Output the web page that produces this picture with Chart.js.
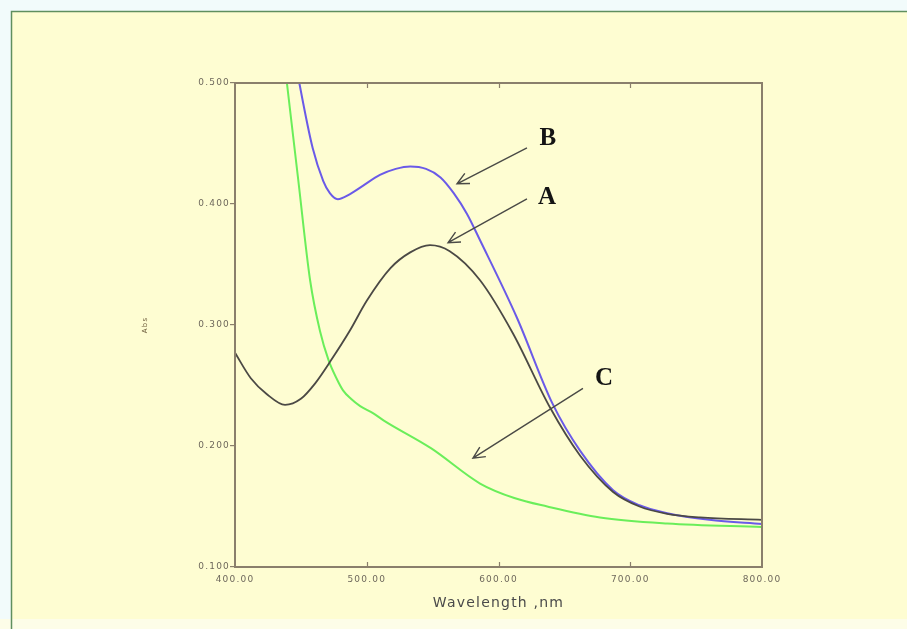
<!DOCTYPE html>
<html>
<head>
<meta charset="utf-8">
<script src="https://cdn.jsdelivr.net/npm/chart.js@4"></script>
<style>
  html, body { margin: 0; padding: 0; background: #f2fbfb; }
  #wrap { position: relative; width: 907px; height: 629px; }
</style>
</head>
<body>
<div id="wrap"><canvas id="myChart" width="907" height="629"></canvas></div>
<script>
// Curve A (black)
var wlA  = [400, 412, 424, 438, 450, 461, 473, 487, 500, 518, 533, 548, 563, 586, 611, 639, 662, 687, 707, 728, 753, 800];
var absA = [0.277, 0.256, 0.243, 0.234, 0.239, 0.252, 0.271, 0.295, 0.320, 0.347, 0.360, 0.366, 0.361, 0.337, 0.293, 0.232, 0.192, 0.162, 0.150, 0.144, 0.141, 0.139];
// Curve B (blue)
var wlB  = [444, 449, 459, 467, 472, 478, 487, 497, 510, 522, 533, 545, 556, 566, 576, 586, 614, 641, 662, 687, 707, 728, 760, 800];
var absB = [0.530, 0.499, 0.446, 0.419, 0.409, 0.404, 0.408, 0.415, 0.424, 0.429, 0.431, 0.429, 0.422, 0.409, 0.392, 0.370, 0.306, 0.235, 0.196, 0.1635, 0.151, 0.1445, 0.139, 0.1355];
// Curve C (green)
var wlC  = [434, 439.5, 448, 457, 464.5, 471, 477, 482, 488, 495, 505, 513, 549, 586, 612, 637, 677, 728, 800];
var absC = [0.550, 0.499, 0.420, 0.337, 0.295, 0.271, 0.256, 0.246, 0.239, 0.233, 0.227, 0.221, 0.198, 0.169, 0.157, 0.150, 0.141, 0.136, 0.133];

var xTicks = [400, 500, 600, 700, 800];
var yTicks = [0.1, 0.2, 0.3, 0.4, 0.5];

// labels + arrows (data coords): text pos, arrow tail, arrow head
var etiketler = [
    { t: "B", tx: 637.5, ty: 0.4538, x1: 621.6, y1: 0.4464, x2: 568.5, y2: 0.4167 },
    { t: "A", tx: 636.8, ty: 0.405,  x1: 621.6, y1: 0.4043, x2: 561.7, y2: 0.368 },
    { t: "C", tx: 680.1, ty: 0.256,  x1: 664.1, y1: 0.2476, x2: 580.6, y2: 0.190 }
];

function noktalar(xs, ys) {
    var out = [];
    for (let i = 0; i < xs.length; i++) {
        out.push({ x: xs[i], y: ys[i] });
    }
    return out;
}

var arkaPlan = {
    id: 'arkaPlan',
    beforeDraw: function (chart) {
        var c = chart.ctx;
        c.save();
        c.fillStyle = '#f2fbfb';
        c.fillRect(0, 0, 907, 629);
        c.fillStyle = '#fefdd2';
        c.fillRect(11, 11, 900, 608);
        c.fillStyle = '#fdfde8';
        c.fillRect(0, 619, 907, 10);
        c.strokeStyle = '#5f8f5f';
        c.lineWidth = 1.5;
        c.beginPath();
        c.moveTo(11.5, 629);
        c.lineTo(11.5, 11.5);
        c.lineTo(907, 11.5);
        c.stroke();
        c.restore();
        // wide spaced axis text like the original
        c.letterSpacing = '1.2px';
    },
    beforeDatasetsDraw: function (chart) {
        chart.ctx.letterSpacing = '0px';
    },
    afterDatasetsDraw: function (chart) {
        var c = chart.ctx;
        var a = chart.chartArea;
        var xs = chart.scales.x, ys = chart.scales.y;
        c.save();
        // plot frame
        c.strokeStyle = '#8a7f6c';
        c.lineWidth = 2;
        c.strokeRect(a.left, a.top, a.right - a.left, a.bottom - a.top);
        // inner ticks on x
        c.lineWidth = 1.2;
        [500, 600, 700].forEach(function (v) {
            var px = Math.round(xs.getPixelForValue(v)) + 0.5;
            c.beginPath();
            c.moveTo(px, a.bottom); c.lineTo(px, a.bottom - 5);
            c.moveTo(px, a.top); c.lineTo(px, a.top + 5);
            c.stroke();
        });
        // annotations
        etiketler.forEach(function (e) {
            var x1 = xs.getPixelForValue(e.x1), y1 = ys.getPixelForValue(e.y1);
            var x2 = xs.getPixelForValue(e.x2), y2 = ys.getPixelForValue(e.y2);
            c.strokeStyle = '#4a4a46';
            c.lineWidth = 1.4;
            c.beginPath();
            c.moveTo(x1, y1); c.lineTo(x2, y2);
            var ang = Math.atan2(y1 - y2, x1 - x2);
            var L = 13, w = 0.45;
            c.moveTo(x2 + L * Math.cos(ang + w), y2 + L * Math.sin(ang + w));
            c.lineTo(x2, y2);
            c.lineTo(x2 + L * Math.cos(ang - w), y2 + L * Math.sin(ang - w));
            c.stroke();
            c.fillStyle = '#141414';
            c.font = 'bold 25px "Liberation Serif", "DejaVu Serif", serif';
            c.textAlign = 'center';
            c.textBaseline = 'middle';
            c.fillText(e.t, xs.getPixelForValue(e.tx), ys.getPixelForValue(e.ty));
        });
        c.restore();
    }
};

var ctx = document.getElementById('myChart').getContext('2d');
var myChart = new Chart(ctx, {
    type: 'line',
    data: {
        datasets: [
            { label: 'A', data: noktalar(wlA, absA), borderColor: '#4b4945', borderWidth: 1.8 },
            { label: 'B', data: noktalar(wlB, absB), borderColor: '#6a5ae8', borderWidth: 2 },
            { label: 'C', data: noktalar(wlC, absC), borderColor: '#6aee5a', borderWidth: 2 }
        ]
    },
    options: {
        responsive: false,
        animation: false,
        elements: { point: { radius: 0 }, line: { cubicInterpolationMode: 'monotone' } },
        layout: { padding: { left: 138, right: 145, top: 83, bottom: 15 } },
        plugins: { legend: { display: false }, tooltip: { enabled: false } },
        scales: {
            x: {
                type: 'linear', min: 400, max: 800,
                afterBuildTicks: function (s) { s.ticks = xTicks.map(function (v) { return { value: v }; }); },
                afterFit: function (s) { s.height = 47; },
                grid: { display: false, drawTicks: false },
                border: { display: false },
                ticks: {
                    padding: 7, color: '#6e685c', maxRotation: 0,
                    font: { family: 'DejaVu Sans', size: 9 },
                    callback: function (v) { return Number(v).toFixed(2); }
                },
                title: {
                    display: true, text: 'Wavelength ,nm', color: '#4a4a4a',
                    font: { family: 'DejaVu Sans', size: 14 }, padding: { top: 0, bottom: 2 }
                }
            },
            y: {
                min: 0.1, max: 0.5,
                afterBuildTicks: function (s) { s.ticks = yTicks.map(function (v) { return { value: v }; }); },
                afterFit: function (s) { s.width = 235 - 138; },
                grid: { drawOnChartArea: false, drawTicks: true, tickLength: 5, color: '#8a7f6c', lineWidth: 1.2 },
                border: { display: false },
                ticks: {
                    padding: 0, color: '#6e685c',
                    font: { family: 'DejaVu Sans', size: 9 },
                    callback: function (v) { return Number(v).toFixed(3); }
                },
                title: {
                    display: true, text: 'Abs', color: '#6a5a3a',
                    font: { family: 'DejaVu Sans', size: 7 }, padding: { top: 3, bottom: 0 }
                }
            }
        }
    },
    plugins: [arkaPlan]
});
</script>
</body>
</html>
